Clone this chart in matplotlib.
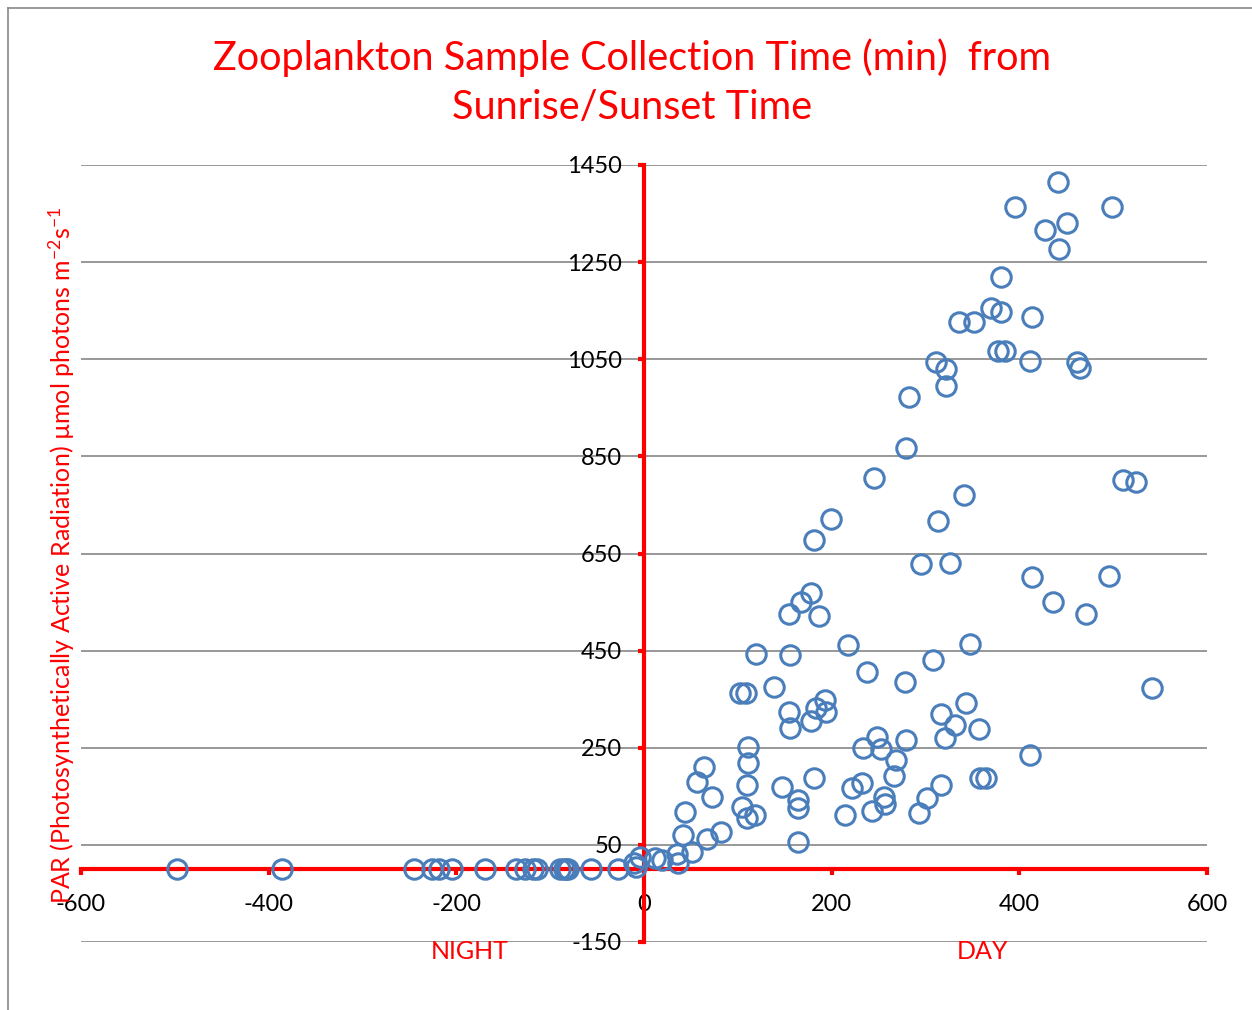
import matplotlib.pyplot as plt
import matplotlib.lines as mlines

# minutes from sunrise/sunset (negative = night)
night_x = [-498, -386, -245, -226, -219, -205, -169, -136, -127, -118, -114,
           -89, -85, -83, -81, -56, -28]
night_y = [0]*len(night_x)

day_x = [-11, -8, -4, 12, 19, 35, 36, 51, 42, 44, 67, 82, 56, 64, 72, 102, 109,
         119, 156, 139, 155, 156, 178, 193, 194, 183, 111, 111, 110, 104, 110, 118,
         147, 164, 164, 164, 181, 214, 222, 232, 243, 256, 257, 233, 248, 253, 269,
         266, 279, 238, 278, 308, 316, 331, 321, 343, 357, 358, 293, 302, 317, 217,
         347, 279, 245, 341, 199, 181, 313, 511, 524, 295, 326, 413, 496, 436, 471,
         178, 167, 155, 187, 541, 411, 364, 441, 395, 499, 451, 427, 442, 380, 370,
         380, 336, 352, 414, 377, 385, 411, 311, 322, 322, 461, 465, 282]
day_y = [12, 5, 26, 24, 19, 31, 13, 36, 70, 118, 62, 77, 180, 210, 149, 362, 362,
         443, 441, 376, 324, 290, 306, 348, 323, 331, 252, 218, 173, 129, 105, 112,
         170, 143, 125, 55, 188, 112, 168, 177, 120, 149, 134, 250, 273, 248, 225,
         192, 266, 405, 386, 431, 319, 297, 270, 342, 289, 188, 115, 146, 173, 462,
         463, 867, 806, 771, 721, 678, 716, 801, 797, 628, 631, 602, 604, 551, 525,
         568, 550, 526, 521, 374, 236, 188, 1414, 1364, 1364, 1330, 1316, 1277, 1219,
         1155, 1148, 1126, 1127, 1136, 1067, 1067, 1047, 1044, 1029, 994, 1045, 1032, 973]

xticks = [-600, -400, -200, 0, 200, 400, 600]
yticks = [-150, 50, 250, 450, 650, 850, 1050, 1250, 1450]

plt.rcParams['font.family'] = ['Lato', 'DejaVu Sans']
plt.rcParams['mathtext.fontset'] = 'custom'
plt.rcParams['mathtext.rm'] = 'Lato'
plt.rcParams['mathtext.default'] = 'regular'

fig = plt.figure(figsize=(12.52, 10.10), dpi=100)
ax = fig.add_axes([81/1252, 68/1010, 1126/1252, 777/1010])
ax.set_xlim(-600, 600)
ax.set_ylim(-150, 1450)

ax.spines['left'].set_position(('data', 0))
ax.spines['bottom'].set_position(('data', 0))
for s in ['left', 'bottom']:
    ax.spines[s].set_color('red')
    ax.spines[s].set_linewidth(3)
    ax.spines[s].set_zorder(2)
ax.spines['top'].set_visible(False)
ax.spines['right'].set_visible(False)

ax.set_xticks(xticks)
ax.set_yticks(yticks)
ax.set_xticklabels([str(v) for v in xticks])
ax.set_yticklabels([str(v) for v in yticks])
ax.tick_params(direction='out', color='red', width=3, length=4, labelsize=17,
               labelcolor='black')
ax.tick_params(axis='x', pad=14)
ax.tick_params(axis='y', pad=12)
ax.yaxis.grid(True, color='#868686', linewidth=1.2)
ax.set_axisbelow(True)

allx = night_x + day_x
ally = night_y + day_y
ax.plot(allx, ally, 'o', ms=14, mfc='none', mec='#4A7EBB', mew=2.2,
        zorder=3, clip_on=False)

ax.text(-186, -170, 'NIGHT', color='red', fontsize=18, ha='center', va='center')
ax.text(361, -170, 'DAY', color='red', fontsize=18, ha='center', va='center')

fig.text(632/1252, 1 - 82/1010,
         'Zooplankton Sample Collection Time (min)  from\nSunrise/Sunset Time',
         color='red', fontsize=28.5, ha='center', va='center', linespacing=1.4)
fig.text(62/1252, 1 - 555/1010,
         'PAR (Photosynthetically Active Radiation) µmol photons m$^{-2}$s$^{-1}$',
         color='red', fontsize=18, rotation=90, ha='center', va='center')

# chart border (left and top only visible)
fig.add_artist(mlines.Line2D([8/1252, 8/1252], [0, 1 - 8/1010], color='#888888', lw=1.2))
fig.add_artist(mlines.Line2D([8/1252, 1], [1 - 8/1010, 1 - 8/1010], color='#888888', lw=1.2))

fig.savefig('out.png', dpi=100)
plt.close()
